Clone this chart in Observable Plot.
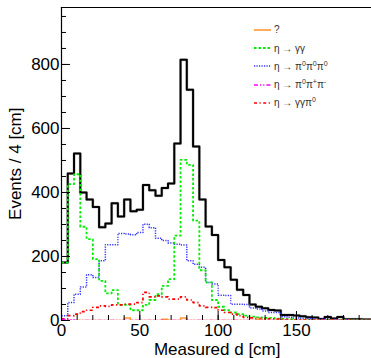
<!DOCTYPE html>
<html><head><meta charset="utf-8">
<script src="https://cdn.jsdelivr.net/npm/d3@7"></script>
<script src="https://cdn.jsdelivr.net/npm/@observablehq/plot@0.6"></script>
<style>
body{margin:0;background:#fff;}
#wrap{position:relative;width:371px;height:358px;overflow:hidden;font-family:"Liberation Sans",Arial,sans-serif;}
#legend{position:absolute;left:254px;top:0;font-size:10px;color:#333;}
.row{position:absolute;left:0;height:12px;white-space:nowrap;display:flex;align-items:center;}
.row svg{width:17px;height:6px;margin-right:3px;flex:none;}
.sup{font-size:7px;position:relative;top:-4px;}
</style>
</head><body>
<div id="wrap"><div id="legend"></div></div>
<script>
// ---- data (Events per 4 cm bin, bins start at 0 cm) ----
const binWidth = 4;
const total  = [181,459,522,400,378,355,291,303,366,325,378,341,346,423,407,390,414,428,553,815,721,544,378,294,267,189,166,127,96,80,50,43,38,33,31,17,17,16,13,10,9,5,11,6,11,4,4,4,3,3];
const etaGG  = [181,426,457,293,254,192,124,85,95,49,49,32,32,49,64,82,108,129,265,502,486,312,157,119,64,43,32,25,20,15,12,10,8,8,6,5,4,3,3,2,2,2,1,1,1,1,0,1,0,0];
const eta3Pi0 = [15,56,82,105,143,134,187,237,237,272,270,268,275,301,290,257,250,242,238,236,187,176,166,119,114,79,78,51,51,50,39,36,30,25,25,12,10,8,7,6,5,4,3,3,2,2,2,1,1,1];
const etaPi0PiPi = [3,2,0,0,0,0,0,0,0,0,0,0,0,0,0,0,0,0,0,0,0,0,0,0,0,0,0,0,0,0,0,0,0,0,0,0,0,0,0,0,0,0,0,0,0,0,0,0,0,0];
const etaGGPi0 = [5,15,20,28,32,41,46,44,49,49,51,51,56,88,74,77,74,67,67,74,64,56,46,41,40,32,25,20,15,10,8,7,6,5,4,3,3,2,2,2,1,1,1,1,0,1,0,0,0,0];
const unknown = [0,0,0,0,0,0,0,0,0,0,8,0,0,0,0,0,4,0,0,8,0,0,0,0,0,0,0,0,0,0,0,4,0,0,0,0,0,0,0,0,0,0,0,0,0,0,0,0,0,0];
const xTickLabels = [0,50,100,150];
const yTickLabels = [0,200,400,600,800];
const xMinorTicks = d3.range(0,200,10);
const yMinorTicks = d3.range(0,1000,50);
const legendNames = ["?", "η → γγ", "η → π<span class='sup'>0</span>π<span class='sup'>0</span>π<span class='sup'>0</span>", "η → π<span class='sup'>0</span>π<span class='sup'>+</span>π<span class='sup'>-</span>", "η → γγπ<span class='sup'>0</span>"];
const xTitle = "Measured d [cm]";
const yTitle = "Events / 4 [cm]";

// ---- styles ----
const styles = {
  unknown:    {stroke:"#ff9933", dash:null,              w:1.6},
  etaGG:      {stroke:"#00ee00", dash:"2.5,2",           w:1.8},
  eta3Pi0:    {stroke:"#3333ff", dash:"1.2,1.3",         w:1.5},
  etaPi0PiPi: {stroke:"#ff00ff", dash:"4,2,1.2,2,1.2,2", w:1.6},
  etaGGPi0:   {stroke:"#ff0000", dash:"3,2.5,1.2,2.5",   w:1.7}
};

function steps(vals){
  const pts = vals.map((v,i)=>({x:i*binWidth, y:v}));
  pts.push({x:vals.length*binWidth, y:vals[vals.length-1]});
  return pts;
}

const W=371, H=358, mL=61, mT=7, mB=38, mR=0;
const plotW = W-mL-mR, plotH = H-mT-mB;

function histLine(vals, s){
  const o = {x:"x", y:"y", curve:"step-after", stroke:s.stroke, strokeWidth:s.w, strokeLinecap:"butt", clip:true};
  if (s.dash) o.strokeDasharray = s.dash;
  return Plot.line(steps(vals), o);
}

const chart = Plot.plot({
  width: W, height: H,
  marginLeft: mL, marginRight: mR, marginTop: mT, marginBottom: mB,
  style: {fontFamily:"'Liberation Sans', Arial, sans-serif", fontSize:"17px", background:"transparent", color:"black"},
  x: {domain:[0,197.9]},
  y: {domain:[0,978]},
  marks: [
    Plot.axisX({ticks:xTickLabels, tickSize:0, tickPadding:3, label:null, fontSize:17}),
    Plot.axisY({ticks:yTickLabels, tickSize:0, tickPadding:2, label:null, fontSize:17}),
    Plot.line(steps(total), {x:"x", y:"y", curve:"step-after", stroke:"#c8c8c8", strokeWidth:3, clip:true}),
    Plot.line(steps(total), {x:"x", y:"y", curve:"step-after", stroke:"black", strokeWidth:2, clip:true}),
    histLine(eta3Pi0, styles.eta3Pi0),
    histLine(etaGG, styles.etaGG),
    histLine(etaGGPi0, styles.etaGGPi0),
    histLine(unknown, styles.unknown),
    histLine(etaPi0PiPi, styles.etaPi0PiPi),
    Plot.tickY(yMinorTicks, {y:d=>d, insetRight:plotW-5, stroke:"black", strokeWidth:1}),
    Plot.tickY(yTickLabels, {y:d=>d, insetRight:plotW-9, stroke:"black", strokeWidth:1}),
    Plot.tickX(xMinorTicks, {x:d=>d, insetTop:plotH-5, stroke:"black", strokeWidth:1}),
    Plot.tickX(xTickLabels, {x:d=>d, insetTop:plotH-9, stroke:"black", strokeWidth:1}),
    Plot.frame({anchor:"top", stroke:"black", strokeWidth:1.2}),
    Plot.frame({anchor:"left", stroke:"black", strokeWidth:1.2}),
    Plot.text([yTitle], {frameAnchor:"top-left", rotate:-90, textAnchor:"end", lineAnchor:"middle", dx:-45.5, dy:100, fontSize:17, fill:"black"}),
    Plot.text([xTitle], {frameAnchor:"bottom-left", textAnchor:"end", lineAnchor:"middle", dx:219, dy:29, fontSize:17, fill:"black"})
  ]
});
document.getElementById("wrap").prepend(chart);

// ---- legend ----
const legendKeys = ["unknown","etaGG","eta3Pi0","etaPi0PiPi","etaGGPi0"];
const rowCenters = [29.7, 48, 66.3, 84.5, 102.7];
const legend = document.getElementById("legend");
legendKeys.forEach((k,i)=>{
  const s = styles[k];
  const row = document.createElement("div");
  row.className = "row";
  row.style.top = (rowCenters[i]-6)+"px";
  row.innerHTML = `<svg viewBox="0 0 17 6"><line x1="0" y1="3" x2="17" y2="3" stroke="${s.stroke}" stroke-width="${s.w}" ${s.dash?`stroke-dasharray="${s.dash}"`:""}/></svg><span>${legendNames[i]}</span>`;
  legend.appendChild(row);
});
</script>
</body></html>
